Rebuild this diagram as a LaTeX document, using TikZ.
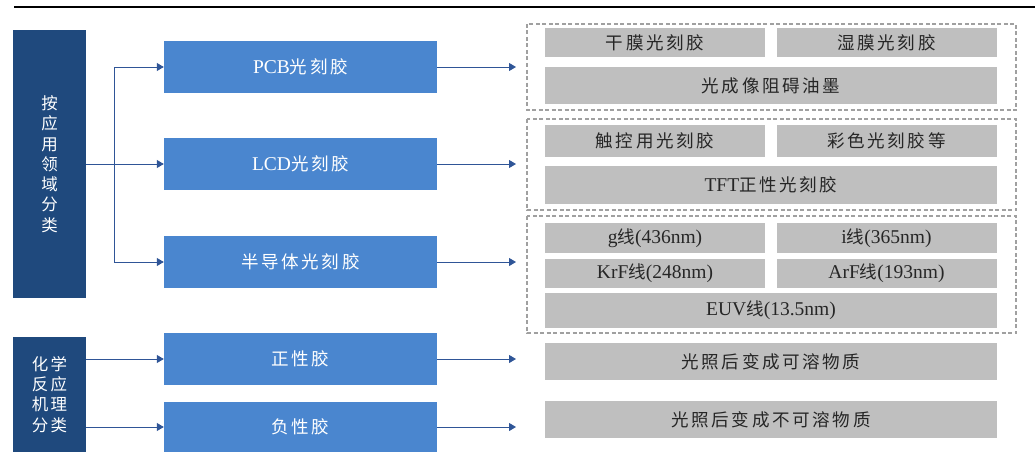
\documentclass[tikz,border=0pt]{standalone}
\usepackage{fontspec}
\setmainfont{Liberation Serif}
\newfontfamily\cjk[LetterSpace=15,Scale=0.9]{Noto Sans CJK SC}
\usetikzlibrary{arrows.meta}
\definecolor{dblue}{HTML}{1F497D}
\definecolor{mblue}{HTML}{4A86CF}
\definecolor{gbox}{HTML}{BFBFBF}
\definecolor{dashc}{HTML}{A0A0A0}
\definecolor{arrc}{HTML}{2F5597}
\begin{document}
\begin{tikzpicture}[x=1pt,y=-1pt,
  leftbox/.style={fill=dblue,text=white,minimum width=73pt,inner sep=0pt,align=center,
    font=\fontsize{18.3}{20.3}\selectfont\cjk},
  midbox/.style={fill=mblue,text=white,minimum width=273pt,minimum height=52pt,inner sep=0pt,
    font=\fontsize{19.5}{22}\selectfont},
  graybox/.style={fill=gbox,text=black!85,inner sep=0pt,font=\fontsize{19.5}{22}\selectfont},
  halfbox/.style={graybox,minimum width=220pt},
  fullbox/.style={graybox,minimum width=452pt},
  dbox/.style={draw=dashc,line width=1.1pt,dash pattern=on 4pt off 2.5pt},
  arr/.style={draw=arrc,line width=1pt,-{Triangle[length=7pt,width=8pt]}}
]
\useasboundingbox (0,0) rectangle (1035,452);
\draw[line width=2pt] (14,7) -- (1035,7);

% left boxes
\node[leftbox,minimum height=268pt] (L1) at (49.5,164) {按\\应\\用\\领\\域\\分\\类};
\node[leftbox,minimum height=115pt] (L2) at (49.5,394.5) {化学\\反应\\机理\\分类};

% middle boxes
\node[midbox] (pcb) at (300.5,67) {PCB{\cjk 光刻胶}};
\node[midbox] (lcd) at (300.5,164) {LCD{\cjk 光刻胶}};
\node[midbox] (semi) at (300.5,262) {\cjk 半导体光刻胶};
\node[midbox] (pos) at (300.5,359) {\cjk 正性胶};
\node[midbox,minimum height=50pt] (neg) at (300.5,427) {\cjk 负性胶};

% left connectors
\coordinate (j) at (114,164);
\draw[arr] (L1.east |- lcd.west) -- (lcd.west);
\draw[arr] (j) |- (pcb.west);
\draw[arr] (j) |- (semi.west);
\draw[arr] (L2.east |- pos.west) -- (pos.west);
\draw[arr] (L2.east |- neg.west) -- (neg.west);

% right arrows
\foreach \n in {pcb,lcd,semi,pos,neg}{
  \coordinate (e\n) at (516,0 |- \n.east);
  \draw[arr] (\n.east) -- (e\n);
}

% dashed groups
\draw[dbox] (527,24) rectangle (1016,110);
\draw[dbox] (527,119) rectangle (1016,210);
\draw[dbox] (527,216) rectangle (1016,333);

% gray boxes
\node[halfbox,minimum height=29pt] (a1) at (655,42.5) {\cjk 干膜光刻胶};
\node[halfbox,minimum height=29pt] (a2) at (886.5,42.5) {\cjk 湿膜光刻胶};
\node[fullbox,minimum height=37pt] (a3) at (771,85.5) {\cjk 光成像阻碍油墨};

\node[halfbox,minimum height=32pt] (b1) at (655,141) {\cjk 触控用光刻胶};
\node[halfbox,minimum height=32pt] (b2) at (886.5,141) {\cjk 彩色光刻胶等};
\node[fullbox,minimum height=38pt] (b3) at (771,185) {TFT{\cjk 正性光刻胶}};

\node[halfbox,minimum height=30pt] (c1) at (655,238) {g{\cjk 线}(436nm)};
\node[halfbox,minimum height=30pt] (c2) at (886.5,238) {i{\cjk 线}(365nm)};
\node[halfbox,minimum height=29pt] (c3) at (655,273.5) {KrF{\cjk 线}(248nm)};
\node[halfbox,minimum height=29pt] (c4) at (886.5,273.5) {ArF{\cjk 线}(193nm)};
\node[fullbox,minimum height=35pt] (c5) at (771,310.5) {EUV{\cjk 线}(13.5nm)};

\node[fullbox,minimum height=37pt] (d1) at (771,361.5) {\cjk 光照后变成可溶物质};
\node[fullbox,minimum height=37pt] (d2) at (771,419.5) {\cjk 光照后变成不可溶物质};
\end{tikzpicture}
\end{document}
